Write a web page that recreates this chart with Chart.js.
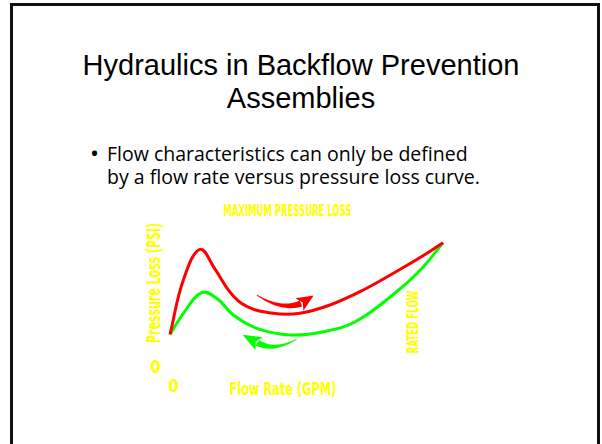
<!DOCTYPE html>
<html>
<head>
<meta charset="utf-8">
<script src="https://cdn.jsdelivr.net/npm/chart.js@4/dist/chart.umd.min.js"></script>
<style>
    html, body { margin: 0; padding: 0; background: #fff; }
    body { width: 602px; height: 444px; position: relative; overflow: hidden; }
    .frame {
        position: absolute; left: 10px; top: 3px; width: 584px; height: 470px;
        border: 3px solid #111;
    }
    .title {
        position: absolute; left: 0; top: 49px; width: 602px; text-align: center;
        font-family: "Liberation Sans", Arial, sans-serif; font-size: 29px;
        line-height: 33px; color: #000;
    }
    .bullet {
        position: absolute; left: 90px; top: 142px;
        font-family: "Open Sans", "Noto Sans", sans-serif; font-size: 19.5px;
        line-height: 23px; color: #000;
    }
    .bullet span { position: absolute; left: 0; top: -1px; font-size: 24px; }
    .bullet div { margin-left: 17px; white-space: nowrap; }
    .plot { position: absolute; left: 140px; top: 200px; width: 330px; height: 210px; }
</style>
</head>
<body>
<div class="frame"></div>
<div class="title">Hydraulics in Backflow Prevention<br>Assemblies</div>
<div class="bullet">
    <span>&bull;</span>
    <div>Flow characteristics can only be defined</div>
    <div>by a flow rate versus pressure loss curve.</div>
</div>
<div class="plot"><canvas id="curveChart"></canvas></div>

<script>
// Flow rate (percent of rated flow) vs pressure loss (percent of max)
const redCurve = [
    { x: 0, y: 27 }, { x: 4.9, y: 69.5 }, { x: 11, y: 93.5 }, { x: 16.5, y: 78 },
    { x: 22, y: 60 }, { x: 28.1, y: 49 }, { x: 37.8, y: 43.5 },
    { x: 47.6, y: 43.6 }, { x: 58.6, y: 50 }, { x: 70.8, y: 61.7 }, { x: 84.2, y: 77.7 },
    { x: 92.8, y: 88.6 }, { x: 100, y: 98.7 },
];
const greenCurve = [
    { x: 0, y: 27 }, { x: 4.9, y: 43.5 }, { x: 11.6, y: 59.6 }, { x: 17.1, y: 55.2 },
    { x: 23.2, y: 42.2 }, { x: 31.8, y: 31.8 }, { x: 44, y: 26.6 }, { x: 56.2, y: 29.1 },
    { x: 68.4, y: 37.5 }, { x: 84.2, y: 62.5 }, { x: 92.8, y: 79.9 }, { x: 100, y: 98.7 },
];

// direction arrows: tail, middle, head base, tip
const redArrow = [{ x: 31.8, y: 57.8 }, { x: 40.3, y: 50 }, { x: 48, y: 51.2 }, { x: 52.6, y: 57.5 }];
const greenArrow = [{ x: 46.4, y: 23.2 }, { x: 38.5, y: 17.6 }, { x: 32, y: 20.5 }, { x: 26.6, y: 26.8 }];

const labelFont = '"Liberation Sans Narrow", "DejaVu Sans Condensed", sans-serif';
const yellow = '#FFFF00';

function drawArrow(ctx, xs, ys, pts, color) {
    const p = pts.map(pt => ({ x: xs.getPixelForValue(pt.x), y: ys.getPixelForValue(pt.y) }));
    const [a, m, b, tip] = p;
    const c = { x: 2 * m.x - (a.x + b.x) / 2, y: 2 * m.y - (a.y + b.y) / 2 };
    const left = [], right = [];
    const n = 24;
    for (let i = 0; i <= n; i++) {
        const t = i / n;
        const px = (1 - t) * (1 - t) * a.x + 2 * (1 - t) * t * c.x + t * t * b.x;
        const py = (1 - t) * (1 - t) * a.y + 2 * (1 - t) * t * c.y + t * t * b.y;
        const dx = 2 * (1 - t) * (c.x - a.x) + 2 * t * (b.x - c.x);
        const dy = 2 * (1 - t) * (c.y - a.y) + 2 * t * (b.y - c.y);
        const len = Math.hypot(dx, dy) || 1;
        const w = 0.4 + 2.8 * t;
        left.push({ x: px - dy / len * w, y: py + dx / len * w });
        right.push({ x: px + dy / len * w, y: py - dx / len * w });
    }
    ctx.fillStyle = color;
    ctx.beginPath();
    left.forEach((q, i) => (i ? ctx.lineTo(q.x, q.y) : ctx.moveTo(q.x, q.y)));
    right.reverse().forEach(q => ctx.lineTo(q.x, q.y));
    ctx.closePath();
    ctx.fill();

    // head
    const hx = tip.x - b.x, hy = tip.y - b.y;
    const hl = Math.hypot(hx, hy) || 1;
    const nx = -hy / hl, ny = hx / hl;
    const hw = 7.5;
    ctx.beginPath();
    ctx.moveTo(tip.x, tip.y);
    ctx.lineTo(b.x + nx * hw - hx / hl * 2, b.y + ny * hw - hy / hl * 2);
    ctx.lineTo(b.x + hx / hl * 2, b.y + hy / hl * 2);
    ctx.lineTo(b.x - nx * hw - hx / hl * 2, b.y - ny * hw - hy / hl * 2);
    ctx.closePath();
    ctx.fill();
}

function putText(ctx, text, x, y, size, maxW, rot) {
    ctx.save();
    ctx.translate(x, y);
    if (rot) ctx.rotate(rot);
    ctx.font = 'bold ' + size + 'px ' + labelFont;
    ctx.fillStyle = yellow;
    ctx.textAlign = 'center';
    ctx.textBaseline = 'middle';
    ctx.fillText(text, 0, 0, maxW);
    ctx.restore();
}

const slidePlugin = {
    id: 'slideExtras',
    afterDatasetsDraw(chart) {
        const ctx = chart.ctx;
        const xs = chart.scales.x, ys = chart.scales.y;
        drawArrow(ctx, xs, ys, redArrow, '#FF0000');
        drawArrow(ctx, xs, ys, greenArrow, '#00FF00');

        const px = v => xs.getPixelForValue(v);
        const py = v => ys.getPixelForValue(v);
        putText(ctx, 'MAXIMUM PRESSURE LOSS', px(42.9), py(122.7), 15, 128);
        putText(ctx, 'Pressure Loss (PSI)', px(-5.5), py(67.2), 19, 120, -Math.PI / 2);
        putText(ctx, 'RATED FLOW', px(89.6), py(36.7), 15, 63, -Math.PI / 2);
        putText(ctx, 'Flow Rate (GPM)', px(41.2), py(-16.4), 18, 107);
        putText(ctx, '0', px(-5.5), py(0), 17);
        putText(ctx, '0', px(1.1), py(-14.8), 17);
    },
};

function createCurveChart() {
    const ctx = document.getElementById('curveChart').getContext('2d');
    new Chart(ctx, {
        type: 'line',
        data: {
            datasets: [
                {
                    label: 'Red curve',
                    data: redCurve,
                    borderColor: '#FF0000',
                    borderWidth: 3,
                    pointRadius: 0,
                    tension: 0.4,
                    clip: false,
                },
                {
                    label: 'Green curve',
                    data: greenCurve,
                    borderColor: '#00FF00',
                    borderWidth: 3,
                    pointRadius: 0,
                    tension: 0.4,
                    clip: false,
                },
            ],
        },
        options: {
            responsive: true,
            maintainAspectRatio: false,
            animation: false,
            layout: { padding: { left: 30, right: 27, top: 41, bottom: 41 } },
            scales: {
                x: { type: 'linear', min: 0, max: 100, display: false },
                y: { min: 0, max: 100, display: false },
            },
            plugins: { legend: { display: false }, tooltip: { enabled: false } },
        },
        plugins: [slidePlugin],
    });
}

document.addEventListener('DOMContentLoaded', createCurveChart);
</script>
</body>
</html>
